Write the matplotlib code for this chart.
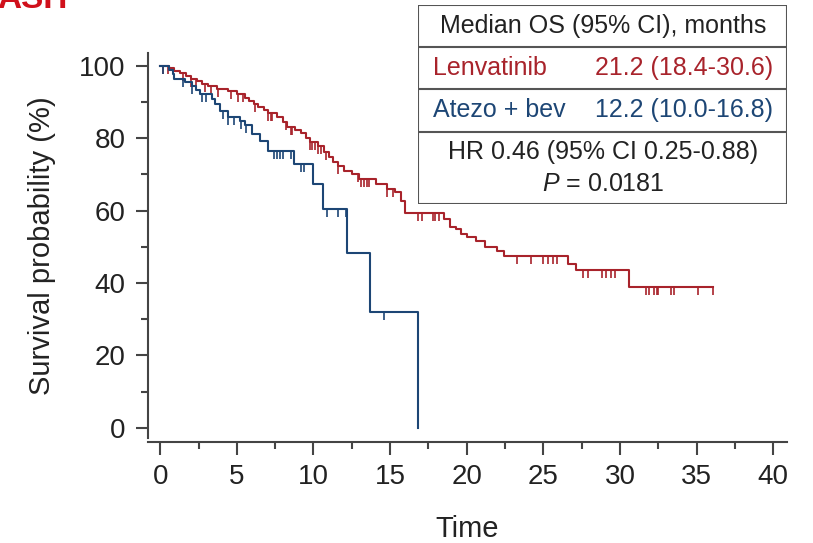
import numpy as np
import matplotlib.pyplot as plt
from matplotlib.lines import Line2D

plt.rcParams['font.family'] = ['Liberation Sans', 'DejaVu Sans']
plt.rcParams['mathtext.fontset'] = 'custom'
plt.rcParams['mathtext.it'] = 'Liberation Sans:italic'
plt.rcParams['mathtext.rm'] = 'Liberation Sans'

# Kaplan-Meier steps: (time, survival after the drop)
lenva_t = [0.6, 0.9, 1.3, 1.7, 2.0, 2.4, 2.7, 3.1, 3.7, 4.4, 5.0, 5.5, 5.8, 6.1, 6.4, 6.8,
           7.0, 7.6, 8.0, 8.3, 8.8, 9.2, 9.5, 9.8, 10.3, 10.7, 11.0, 11.3, 11.6, 12.0, 12.5,
           13.0, 14.1, 14.8, 15.3, 15.7, 16.0, 18.5, 18.9, 19.3, 19.6, 20.0, 20.6, 21.2,
           22.0, 22.4, 26.6, 27.1, 30.6]
lenva_s = [99.3, 98.6, 97.9, 97.2, 96.4, 95.7, 95.0, 94.3, 93.6, 92.9, 92.2, 91.1, 90.3, 89.4,
           88.6, 87.8, 87.0, 85.9, 84.5, 83.2, 82.2, 81.4, 80.0, 79.0, 77.8, 76.2, 74.8, 73.5,
           72.3, 71.0, 70.0, 68.7, 67.3, 66.0, 65.0, 62.5, 59.3, 57.6, 55.5, 54.8, 53.5, 52.6,
           51.5, 49.9, 48.8, 47.4, 45.2, 43.5, 39.0]
lenva_end = 36.1
lenva_cens = [0.2, 0.5, 1.5, 2.0, 2.3, 2.9, 3.3, 3.8, 4.6, 5.1, 5.4, 6.2, 7.0, 7.2, 7.3, 8.2,
              8.5, 8.6, 9.8, 9.9, 10.1, 10.3, 10.5, 10.8, 11.6, 12.9, 13.1, 13.3, 13.5, 13.6,
              14.8, 15.2, 16.8, 17.1, 17.8, 17.9, 18.2, 23.3, 24.2, 25.0, 25.3, 25.6, 25.9,
              27.6, 27.9, 28.8, 29.1, 29.4, 29.7, 31.7, 31.9, 32.2, 32.4, 32.5, 33.3, 33.5,
              35.1, 36.1]

atezo_t = [0.6, 0.8, 0.9, 1.6, 2.1, 2.3, 2.6, 3.4, 3.6, 3.9, 4.4, 5.2, 5.5, 6.0, 6.5, 7.0,
           8.7, 10.0, 10.6, 12.2, 13.7, 16.8]
atezo_s = [98.9, 97.8, 96.4, 95.6, 94.4, 93.2, 92.2, 90.8, 89.5, 87.5, 85.9, 84.8, 83.6,
           81.2, 79.2, 76.5, 72.9, 67.3, 60.4, 48.2, 32.1, 0.0]
atezo_end = 16.8
atezo_cens = [0.2, 1.5, 2.1, 2.7, 3.0, 4.1, 4.4, 4.8, 5.3, 5.6, 7.4, 7.6, 7.8, 8.0, 8.5,
              9.2, 9.35, 10.9, 11.6, 12.1, 14.6]

red = '#a8232b'
blue = '#1d4675'

fig = plt.figure(figsize=(8.13, 5.43), dpi=100)
ax = fig.add_axes([148 / 813, 1 - 438 / 543, (787 - 148) / 813, (438 - 53) / 543])


def km(ax, t, s, end, cens, color):
    tt = np.concatenate([[0], t, [end]])
    ss = np.concatenate([[100], s, [s[-1]]])
    ax.plot(tt, ss, drawstyle='steps-post', color=color, lw=1.5)
    idx = np.searchsorted(tt, cens, side='right') - 1
    ax.plot(cens, ss[idx], ls='none', marker=3, ms=6, mew=1.2, color=color)


km(ax, lenva_t, lenva_s, lenva_end, lenva_cens, red)
km(ax, atezo_t, atezo_s, atezo_end, atezo_cens, blue)

ax.set_xlim(-0.8, 40.9)
ax.set_ylim(-2.8, 103.5)
ax.set_xticks(np.arange(0, 41, 5))
ax.set_xticks(np.arange(0, 41, 2.5), minor=True)
ax.set_yticks(np.arange(0, 101, 20))
ax.set_yticks(np.arange(0, 101, 10), minor=True)
for side in ['top', 'right']:
    ax.spines[side].set_visible(False)
for side in ['left', 'bottom']:
    ax.spines[side].set_color('#444444')
    ax.spines[side].set_linewidth(1.5)
ax.spines['bottom'].set_position(('outward', 3))
ax.tick_params(which='major', length=9, width=1.5, color='#444444', labelsize=20,
               labelcolor='#222222', pad=7)
ax.tick_params(which='minor', length=5, width=1.5, color='#444444')
ax.set_xlabel('Time', fontsize=21, color='#222222', labelpad=18)
ax.set_ylabel('Survival probability (%)', fontsize=21, color='#222222', labelpad=17)

# table box with medians
tb = fig.add_axes([418 / 813, 1 - 204 / 543, (787 - 418) / 813, (204 - 5) / 543])
tb.set_xlim(418, 787)
tb.set_ylim(204, 5)
tb.axis('off')
border = '#555555'
for yl in [5, 47, 89, 132, 204]:
    tb.add_line(Line2D([418, 787], [yl, yl], color=border, lw=1.5))
for xl in [418, 787]:
    tb.add_line(Line2D([xl, xl], [5, 204], color=border, lw=1.5))
fs = 18
tb.text(603, 26, 'Median OS (95% CI), months', ha='center', va='center', fontsize=fs, color='#222222')
tb.text(433, 68, 'Lenvatinib', ha='left', va='center', fontsize=fs, color=red)
tb.text(773, 68, '21.2 (18.4-30.6)', ha='right', va='center', fontsize=fs, color=red)
tb.text(433, 110, 'Atezo + bev', ha='left', va='center', fontsize=fs, color=blue)
tb.text(773, 110, '12.2 (10.0-16.8)', ha='right', va='center', fontsize=fs, color=blue)
tb.text(603, 152, 'HR 0.46 (95% CI 0.25-0.88)', ha='center', va='center', fontsize=fs, color='#222222')
tb.text(603, 184, '$P$ = 0.0181', ha='center', va='center', fontsize=fs, color='#222222')

# clipped panel heading at the top edge
fig.text(-0.004, 1 - 8 / 543, 'ASH', ha='left', va='baseline', fontsize=24,
         fontweight='bold', color='#d0101b')

plt.savefig('out.png', dpi=100)
